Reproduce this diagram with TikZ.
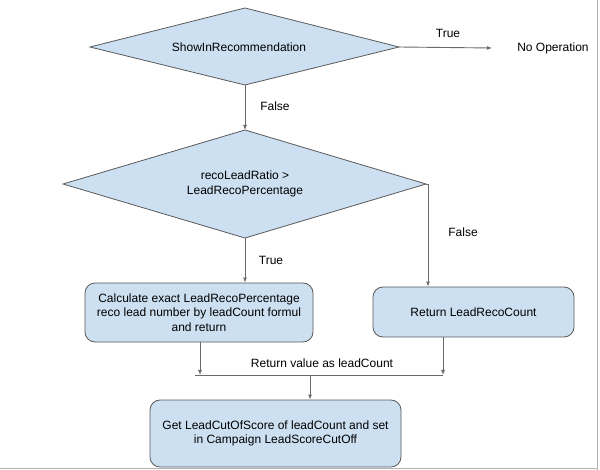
\documentclass[tikz,border=0pt]{standalone}
\usepackage{fontspec}
\setmainfont{Liberation Sans}
\usetikzlibrary{shapes.geometric,arrows.meta}
\definecolor{boxfill}{HTML}{CCE0F2}
\definecolor{edge}{HTML}{5A5A5A}
\definecolor{wire}{HTML}{6A6A6A}
\begin{document}
\begin{tikzpicture}[x=1pt,y=-1pt,
  every node/.style={font=\fontsize{12}{14.5}\selectfont},
  decision/.style={draw=edge,fill=boxfill,line width=0.8pt},
  procbox/.style={draw=edge,fill=boxfill,line width=0.8pt,rounded corners=10pt,align=center},
  plain/.style={inner sep=1pt},
  conn/.style={draw=wire,line width=0.9pt},
  arr/.style={conn,-{Latex[length=5pt,width=4pt]}}]
\useasboundingbox (0,0) rectangle (600,470);
\fill[white] (0,0) rectangle (600,470);
\draw[gray!60,line width=0.8pt] (597,0) -- (597,470);
\draw[gray!60,line width=0.8pt] (0,468.5) -- (597,468.5);
% diamond 1
\coordinate (d1l) at (90,47);
\coordinate (d1r) at (399,47);
\coordinate (d1t) at (245,8);
\coordinate (d1b) at (245,85);
\draw[decision] (d1l) -- (d1t) -- (d1r) -- (d1b) -- cycle;
\node[plain] (d1) at (239,47) {ShowInRecommendation};
\node[plain] (noop) at (553,48) {No Operation};
\coordinate (noopin) at (492,48);
\draw[arr] (d1r) -- (noopin);
\node[plain] (ltrue1) at (448,33) {True};
% diamond 2
\coordinate (d2l) at (63,184);
\coordinate (d2r) at (426,184);
\coordinate (d2t) at (245,130);
\coordinate (d2b) at (245,238);
\draw[arr] (d1b) -- (d2t);
\node[plain] (lfalse1) at (275,106) {False};
\draw[decision] (d2l) -- (d2t) -- (d2r) -- (d2b) -- cycle;
\node[plain,align=center] (d2) at (245,184) {recoLeadRatio \textgreater\\LeadRecoPercentage};
% boxes
\node[procbox,minimum width=228pt,minimum height=59pt] (b1) at (199,312.5)
  {Calculate exact LeadRecoPercentage\\reco lead number by leadCount formul\\and return};
\node[procbox,minimum width=201pt,minimum height=50pt] (b2) at (473.5,312) {Return LeadRecoCount};
\node[procbox,minimum width=251pt,minimum height=67pt] (b3) at (275.5,433.5)
  {Get LeadCutOfScore of leadCount and set\\in Campaign LeadScoreCutOff};
\draw[arr] (d2b) -- (b1.north -| d2b);
\node[plain] (ltrue2) at (271,260) {True};
\draw[arr] (d2r) -- (428,184) -- (b2.north -| 428,0);
\node[plain] (lfalse2) at (463,232) {False};
% merge
\coordinate (mL) at (195,375);
\coordinate (mR) at (443,375);
\coordinate (mM) at (310,375);
\draw[conn] (mL) -- (mR);
\draw[arr] (b1.south -| 200,0) -- (200,375);
\draw[arr] (b2.south -| 443,0) -- (mR);
\node[plain] (lret) at (322,363) {Return value as leadCount};
\draw[arr] (mM) -- (b3.north -| mM);
\end{tikzpicture}
\end{document}
